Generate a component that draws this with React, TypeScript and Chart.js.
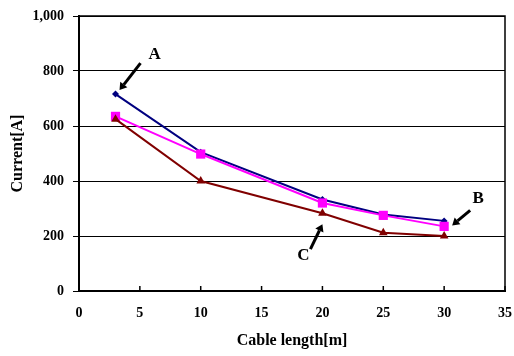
import React, { useEffect, useRef } from "react";
import { Chart, registerables } from "chart.js";

Chart.register(...registerables);

const cableLength = [3, 10, 20, 25, 30];
const seriesA = [716, 505, 333, 278, 255];
const seriesB = [635, 498, 320, 275, 235];
const seriesC = [625, 400, 283, 212, 200];
const xTicks = [0, 5, 10, 15, 20, 25, 30, 35];
const yTicks = [0, 200, 400, 600, 800, 1000];

const FONT = "'Liberation Serif', 'Times New Roman', serif";

// annotation labels pointing at data points (dataset index, point index, pixel offsets)
const annotations = [
  { text: "A", ds: 2, idx: 0, tip: [4, -4], tail: [25, -31], label: [39, -39] },
  { text: "B", ds: 1, idx: 4, tip: [8, -1], tail: [26, -16], label: [34, -28] },
  { text: "C", ds: 0, idx: 2, tip: [0, 11], tail: [-12, 36], label: [-19, 42] },
];

const annotationPlugin = {
  id: "annots",
  afterDraw(chart: any) {
    const ctx = chart.ctx;
    const { left, right, top, bottom } = chart.chartArea;
    const xs = chart.scales.x;
    ctx.save();
    ctx.strokeStyle = "#000";
    ctx.lineWidth = 1.5;
    ctx.beginPath();
    ctx.moveTo(left, top);
    ctx.lineTo(right, top);
    ctx.lineTo(right, bottom);
    ctx.stroke();
    ctx.lineWidth = 1.5;
    xTicks.forEach((v) => {
      const px = xs.getPixelForValue(v);
      ctx.beginPath();
      ctx.moveTo(px, bottom);
      ctx.lineTo(px, bottom - 5);
      ctx.stroke();
    });
    annotations.forEach((a) => {
      const pt = chart.getDatasetMeta(a.ds).data[a.idx];
      const tx = pt.x + a.tip[0];
      const ty = pt.y + a.tip[1];
      const sx = pt.x + a.tail[0];
      const sy = pt.y + a.tail[1];
      const ang = Math.atan2(ty - sy, tx - sx);
      const head = 7;
      const bx = tx - head * Math.cos(ang);
      const by = ty - head * Math.sin(ang);
      ctx.strokeStyle = "#000";
      ctx.fillStyle = "#000";
      ctx.lineWidth = 3;
      ctx.beginPath();
      ctx.moveTo(sx, sy);
      ctx.lineTo(bx, by);
      ctx.stroke();
      ctx.beginPath();
      ctx.moveTo(tx, ty);
      ctx.lineTo(bx + 4.5 * Math.cos(ang + Math.PI / 2), by + 4.5 * Math.sin(ang + Math.PI / 2));
      ctx.lineTo(bx + 4.5 * Math.cos(ang - Math.PI / 2), by + 4.5 * Math.sin(ang - Math.PI / 2));
      ctx.closePath();
      ctx.fill();
      ctx.font = `bold 17px ${FONT}`;
      ctx.textAlign = "center";
      ctx.textBaseline = "middle";
      ctx.fillText(a.text, pt.x + a.label[0], pt.y + a.label[1]);
    });
    ctx.restore();
  },
};

export default function App() {
  const ref = useRef<HTMLCanvasElement>(null);
  useEffect(() => {
    document.body.style.margin = "0";
    const tickFont = { family: FONT, size: 14, weight: "bold" as const };
    const titleFont = { family: FONT, size: 16, weight: "bold" as const };
    const chart = new Chart(ref.current!, {
      type: "line",
      data: {
        labels: cableLength,
        datasets: [
          {
            label: "C",
            data: cableLength.map((x, i) => ({ x, y: seriesC[i] })),
            borderColor: "#800000",
            backgroundColor: "#800000",
            borderWidth: 2,
            pointStyle: "triangle",
            pointRadius: 5,
            pointBorderWidth: 0,
          },
          {
            label: "B",
            data: cableLength.map((x, i) => ({ x, y: seriesB[i] })),
            borderColor: "#FF00FF",
            backgroundColor: "#FF00FF",
            borderWidth: 2,
            pointStyle: "rect",
            pointRadius: 6.5,
            pointBorderWidth: 0,
          },
          {
            label: "A",
            data: cableLength.map((x, i) => ({ x, y: seriesA[i] })),
            borderColor: "#000080",
            backgroundColor: "#000080",
            borderWidth: 2,
            pointStyle: "rectRot",
            pointRadius: 3.5,
            pointBorderWidth: 0,
          },
        ],
      },
      options: {
        responsive: false,
        animation: false,
        layout: { padding: { top: 16, right: 9, left: 0, bottom: 0 } },
        plugins: { legend: { display: false }, tooltip: { enabled: false } },
        scales: {
          x: {
            type: "linear",
            min: 0,
            max: 35,
            afterBuildTicks: (s: any) => {
              s.ticks = xTicks.map((v) => ({ value: v }));
            },
            afterFit: (s: any) => {
              s.height = 65;
              s.paddingRight = 0;
              s.paddingLeft = 0;
            },
            grid: { display: false },
            border: { display: true, color: "#000", width: 2 },
            ticks: { font: tickFont, color: "#000", padding: 6, maxRotation: 0 },
            title: {
              display: true,
              text: "Cable length[m]",
              font: titleFont,
              color: "#000",
              padding: { top: 0, bottom: 6 },
            },
          },
          y: {
            min: 0,
            max: 1000,
            afterBuildTicks: (s: any) => {
              s.ticks = yTicks.map((v) => ({ value: v }));
            },
            afterFit: (s: any) => {
              s.width = 79;
              s.paddingTop = 0;
              s.paddingBottom = 0;
            },
            grid: { color: "#000", lineWidth: 1, tickLength: 6, drawTicks: true },
            border: { display: true, color: "#000", width: 2 },
            ticks: {
              font: tickFont,
              color: "#000",
              padding: 9,
              callback: (v: any) => Number(v).toLocaleString("en-US"),
            },
            title: {
              display: true,
              text: "Current[A]",
              font: titleFont,
              color: "#000",
              padding: { top: 8, bottom: 0 },
            },
          },
        },
      },
      plugins: [annotationPlugin],
    });
    return () => chart.destroy();
  }, []);
  return (
    <div style={{ position: "absolute", left: 0, top: 0, width: 514, height: 356 }}>
      <canvas ref={ref} width={514} height={356} />
    </div>
  );
}
